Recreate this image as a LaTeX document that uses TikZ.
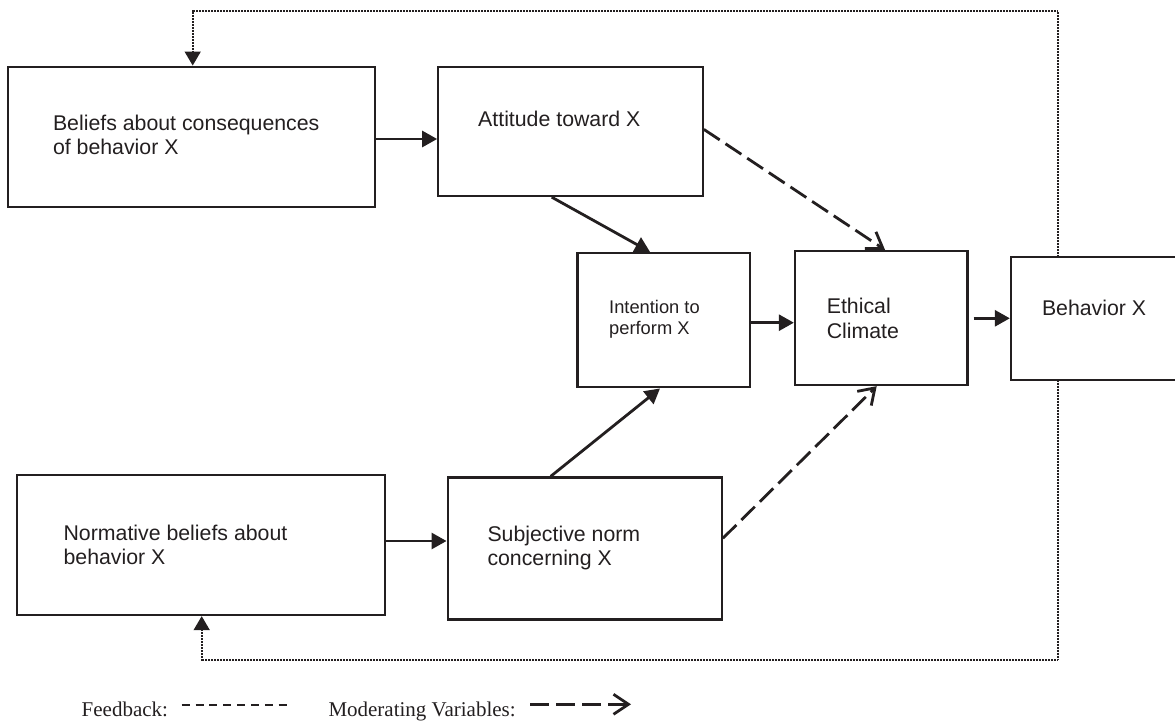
\documentclass[tikz,border=0pt]{standalone}
\usepackage{fontspec}
\setmainfont{Liberation Sans}
\newfontfamily\legendfont{Liberation Serif}
\usetikzlibrary{arrows.meta,calc}
\definecolor{ink}{HTML}{231F20}
\begin{document}
\begin{tikzpicture}[x=1pt,y=-1pt,
  box/.style={draw=ink, line width=2.3pt, inner sep=0pt, rectangle},
  txt/.style={inner sep=0pt, anchor=north west, align=left, text=ink, font=\fontsize{21.3pt}{24.3pt}\selectfont},
  smalltxt/.style={txt, font=\fontsize{18.3pt}{21pt}\selectfont},
  legtxt/.style={inner sep=0pt, anchor=base west, text=ink, font=\legendfont\fontsize{21pt}{24pt}\selectfont},
  arr/.style={draw=ink, line width=2.8pt, -{Triangle[length=15pt,width=16pt]}},
  modarr/.style={draw=ink, line width=2.8pt, dash pattern=on 19pt off 7pt, -{Straight Barb[length=15pt,width=20pt]}},
  fb/.style={draw=ink, line width=1.6pt, dash pattern=on 1pt off 0.5pt},
  fbarr/.style={fb, -{Triangle[length=14pt,width=16pt]}},
  legdash/.style={draw=ink, line width=1.4pt, dash pattern=on 8pt off 5.86pt},
]
\useasboundingbox (0,0) rectangle (1175,722);
\clip (0,0) rectangle (1175,722);

% boxes
\node[box, minimum width=366.7pt, minimum height=140pt]   (beliefs)    at (191.65,136.7) {};
\node[box, minimum width=264.4pt, minimum height=129.3pt] (attitude)   at (570.5,131.35) {};
\node[box, minimum width=172.5pt, minimum height=134.3pt] (intention)  at (663.75,320.15) {};
\node[box, minimum width=172.5pt, minimum height=134pt]   (ethical)    at (881.25,318) {};
\node[box, minimum width=169pt,   minimum height=123.3pt] (behavior)   at (1095.5,318.35) {};
\node[box, minimum width=367.7pt, minimum height=140pt]   (normative)  at (201.15,545) {};
\node[box, minimum width=274pt,   minimum height=142pt]   (subjective) at (584.7,548.5) {};

% texts
\node[txt] (tbeliefs) at (52.8,115) {Beliefs about consequences\\of behavior X};
\node[txt] (tattitude) at (478,111) {Attitude toward X};
\node[smalltxt] (tintention) at (609,300) {Intention to\\perform X};
\node[txt] (tethical) at (826.6,298.3) {Ethical\\Climate};
\node[txt] (tbehavior) at (1041.8,300) {Behavior X};
\node[txt] (tnormative) at (63.4,525) {Normative beliefs about\\behavior X};
\node[txt] (tsubjective) at (487.3,525.7) {Subjective norm\\concerning X};

% solid arrows
\draw[arr] ([yshift=-2.3pt]beliefs.east) -- ([yshift=-2.3pt]beliefs.east -| attitude.west);
\draw[arr] ([xshift=-18.8pt]attitude.south) -- ([xshift=-13.75pt]intention.north);
\draw[arr] ([xshift=-34pt]subjective.north) -- ([xshift=-3.75pt]intention.south);
\draw[arr] ([yshift=-2.55pt]intention.east) -- ([yshift=-2.55pt]intention.east -| ethical.west);
\draw[arr] ([xshift=5pt,yshift=-0.3pt]ethical.east) -- ([yshift=-0.3pt]ethical.east -| behavior.west);
\draw[arr] ([yshift=4pt]normative.east) -- ([yshift=4pt]normative.east -| subjective.west);

% moderating (dashed) arrows
\draw[modarr] ([yshift=2pt]attitude.east) -- ([xshift=3.75pt]ethical.north);
\draw[modarr] ([yshift=10.2pt]subjective.east) -- ([xshift=-4.55pt]ethical.south);

% feedback loops
\draw[fbarr] ([xshift=-37.8pt]behavior.north) -- ++(0,-244.4) -| ([xshift=1.05pt]beliefs.north);
\draw[fbarr] ([xshift=-37.8pt]behavior.south) -- ++(0,279) -| ([xshift=0.55pt]normative.south);

% legend
\node[legtxt] (lfeedback) at (81.5,716) {Feedback:};
\node[legtxt] (lmoderating) at (328.3,716) {Moderating Variables:};
\coordinate (fbA) at (181.7,705);
\coordinate (fbB) at (287,705);
\coordinate (mdA) at (530,704.3);
\coordinate (mdB) at (631,704.3);
\draw[legdash] (fbA) -- (fbB);
\draw[modarr] (mdA) -- (mdB);
\end{tikzpicture}
\end{document}
